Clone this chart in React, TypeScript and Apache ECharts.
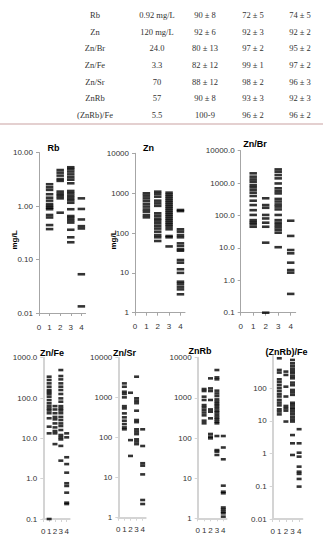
import React, { useEffect, useRef } from 'react';
import * as echarts from 'echarts';

// Summary table rows
const tableLabels = ['Rb', 'Zn', 'Zn/Br', 'Zn/Fe', 'Zn/Sr', 'ZnRb', '(ZnRb)/Fe'];
const tableThresholds = ['0.92 mg/L', '120 mg/L', '24.0', '3.3', '70', '57', '5.5'];
const tableColA = ['90 ± 8', '92 ± 6', '80 ± 13', '82 ± 12', '88 ± 12', '90 ± 8', '100-9'];
const tableColB = ['72 ± 5', '92 ± 3', '97 ± 2', '99 ± 1', '98 ± 2', '93 ± 3', '96 ± 2'];
const tableColC = ['74 ± 5', '92 ± 2', '95 ± 2', '97 ± 2', '96 ± 3', '92 ± 3', '96 ± 2'];

// Group positions on the x axis
const groupTicks = [0, 1, 2, 3, 4];

// Measured values for groups 1..4 of each panel
const rbValues = [
  [2.55, 2.24, 2.0, 1.66, 1.43, 1.26, 1.09, 1.0, 0.93, 0.87, 0.68, 0.61, 0.44, 0.37],
  [4.7, 4.2, 3.7, 3.2, 2.95, 1.86, 1.68, 1.54, 1.39, 0.75],
  [5.3, 4.9, 4.4, 3.9, 3.45, 3.1, 2.66, 1.91, 1.73, 1.56, 1.41, 1.28, 1.15, 0.87, 0.65, 0.6, 0.54, 0.49, 0.36, 0.26, 0.21],
  [1.39, 0.88, 0.56, 0.42, 0.38, 0.053, 0.0133],
];
const znValues = [
  [990, 865, 740, 635, 535, 460, 390, 343, 283, 247],
  [1090, 955, 816, 648, 555, 480, 312, 270, 230, 204, 175, 150, 129, 108, 89, 78, 63],
  [1030, 917, 818, 728, 648, 578, 514, 458, 408, 363, 323, 288, 257, 228, 204, 181, 162, 144, 124, 84, 78, 46],
  [378, 355, 124, 108, 89, 78, 55, 47, 39, 36, 21, 18, 12.3, 10, 6.0, 5.3, 4.5, 3.85, 2.9],
];
const znBrValues = [
  [2000, 1580, 1300, 1100, 870, 740, 615, 505, 400, 286, 210, 146, 104, 72, 62, 54, 45],
  [340, 210, 173, 104, 81, 60, 45, 14.5, 0.1],
  [2650, 2230, 1770, 1400, 975, 690, 570, 480, 325, 270, 220, 188, 154, 104, 72, 60, 51, 43, 36, 29.5, 10.5],
  [69, 23.4, 8.6, 6.8, 3.5, 2.07, 1.72, 0.38],
];
const znFeValues = [
  [338, 280, 231, 191, 158, 141, 126, 108, 89, 74, 63, 55, 49, 42, 31.5, 19.5, 13.3, 0.1],
  [63, 52, 42, 34, 29.6, 23.5, 18.7, 15.2, 13.3, 7.2],
  [494, 351, 290, 231, 191, 158, 126, 98, 81, 63, 55, 49, 42, 34, 28.5, 23.5, 20.2, 16.1, 12.1, 10.6, 9.4, 6.5, 2.8],
  [13.3, 10.6, 3.4, 2.3, 1.41, 0.77, 0.66, 0.45, 0.254, 0.235],
];
const znSrValues = [
  [2280, 1880, 1410, 1240, 1020, 615, 540, 406, 323, 266, 219, 181, 162],
  [1330, 87, 35],
  [3350, 965, 840, 730, 473, 277, 245, 162, 142, 123, 91, 80, 69],
  [162, 62, 23, 20, 12.1, 2.77, 2.2],
];
const znRbValues = [
  [1660, 1480, 1070, 885, 660, 580, 500, 430, 367, 270, 232],
  [3060, 1720, 1480, 885, 515, 452, 309, 126, 108, 98],
  [4930, 3240, 2890, 1510, 1290, 1110, 915, 803, 705, 630, 550, 480, 430, 373, 325, 290, 256, 232, 112, 50, 45.7, 37.8],
  [112, 58, 29.5, 6.5, 4.6, 4.2, 1.86, 1.66, 1.47, 1.33, 1.1],
];
const znRbFeValues = [
  [828, 364, 302, 188, 156, 126, 102, 83, 67, 56, 44, 36.4, 30, 22.7, 19.4, 15.9],
  [324, 256, 112, 56, 28.8, 24.5, 20.7, 9.6],
  [736, 582, 483, 400, 340, 288, 238, 202, 149, 124, 89, 75, 63, 36, 31, 26, 22.7, 19.4, 16.3, 13.5, 11.2, 9.6, 3.7, 2.07, 0.91],
  [5.6, 2.07, 1.07, 0.81, 0.4, 0.28, 0.24, 0.168, 0.098],
];

type Fmt = 'f2' | 'f1' | 'int' | 'plain';

interface Panel {
  title: string;
  values: number[][];
  left: number;
  top: number;
  width: number;
  height: number;
  xMax: number;
  yMin: number;
  yMax: number;
  fmt: Fmt;
  titleX: number;
  titleY: number;
  unitX?: number;
  topRow: boolean;
  hideMax?: boolean;
}

const panels: Panel[] = [
  { title: 'Rb', values: rbValues, left: 39, top: 152.5, width: 46.6, height: 160.5, xMax: 4.4, yMin: 0.01, yMax: 10, fmt: 'f2', titleX: 53.5, titleY: 148, unitX: 14, topRow: true },
  { title: 'Zn', values: znValues, left: 135, top: 153.3, width: 50, height: 159.4, xMax: 4.4, yMin: 1, yMax: 10000, fmt: 'int', titleX: 148.5, titleY: 148, unitX: 113, topRow: true },
  { title: 'Zn/Br', values: znBrValues, left: 240.7, top: 150.7, width: 55, height: 162, xMax: 4.4, yMin: 0.1, yMax: 10000, fmt: 'f1', titleX: 255, titleY: 144, topRow: true },
  { title: 'Zn/Fe', values: znFeValues, left: 43.3, top: 357.7, width: 26.3, height: 161.3, xMax: 4.5, yMin: 0.1, yMax: 1000, fmt: 'f1', titleX: 52, titleY: 352.7, topRow: false },
  { title: 'Zn/Sr', values: znSrValues, left: 118.3, top: 357.7, width: 27.4, height: 160, xMax: 4.5, yMin: 1, yMax: 10000, fmt: 'int', titleX: 124.5, titleY: 352.7, topRow: false },
  { title: 'ZnRb', values: znRbValues, left: 197.7, top: 357.7, width: 28.8, height: 160.6, xMax: 4.5, yMin: 1, yMax: 10000, fmt: 'int', titleX: 200, titleY: 350.7, topRow: false },
  { title: '(ZnRb)/Fe', values: znRbFeValues, left: 272.7, top: 355.6, width: 29.7, height: 163.4, xMax: 4.5, yMin: 0.01, yMax: 1000, fmt: 'plain', titleX: 286.5, titleY: 351.7, topRow: false, hideMax: true },
];

const formatTick = (fmt: Fmt) => (v: number) => {
  const n = Number(v.toPrecision(6));
  if (fmt === 'f2') return n.toFixed(2);
  if (fmt === 'f1') return n.toFixed(1);
  if (fmt === 'int') return String(Math.round(n));
  return String(n);
};

const sans = 'Liberation Sans, Arial, sans-serif';
const serif = 'Liberation Serif, Times New Roman, serif';

function buildOption() {
  const grid: any[] = [];
  const xAxis: any[] = [];
  const yAxis: any[] = [];
  const series: any[] = [];
  const graphic: any[] = [];

  panels.forEach((p, i) => {
    const axisColor = p.topRow ? '#a6a6a6' : '#d4d4d4';
    const axisWidth = p.topRow ? 1 : 2;
    grid.push({ left: p.left, top: p.top, width: p.width, height: p.height, containLabel: false, outerBoundsMode: 'none' });
    xAxis.push({
      type: 'value',
      gridIndex: i,
      min: 0,
      max: p.xMax,
      splitLine: { show: false },
      axisLine: { onZero: false, lineStyle: { color: axisColor, width: axisWidth } },
      axisTick: { show: true, length: 3, customValues: groupTicks, lineStyle: { color: axisColor } },
      axisLabel: {
        customValues: groupTicks,
        margin: p.topRow ? 10 : 8,
        fontFamily: sans,
        fontSize: 8,
        color: '#333',
      },
    });
    yAxis.push({
      type: 'log',
      logBase: 10,
      gridIndex: i,
      min: p.yMin,
      max: p.yMax,
      splitLine: { show: false },
      minorTick: { show: false },
      axisLine: { show: true, onZero: false, lineStyle: { color: axisColor, width: axisWidth } },
      axisTick: { show: true, length: 3, lineStyle: { color: axisColor } },
      axisLabel: {
        margin: 6,
        fontFamily: sans,
        fontSize: 8,
        color: '#333',
        showMaxLabel: p.hideMax ? false : true,
        formatter: formatTick(p.fmt),
      },
    });
    const data: number[][] = [];
    p.values.forEach((group, g) => {
      group.forEach((v) => data.push([g + 1, v]));
    });
    series.push({
      type: 'scatter',
      xAxisIndex: i,
      yAxisIndex: i,
      data,
      symbol: 'rect',
      symbolSize: p.topRow ? [7.5, 2.6] : [5, 2.6],
      itemStyle: { color: '#000' },
      clip: false,
      silent: true,
    });
    graphic.push({
      type: 'text',
      x: p.titleX,
      y: p.titleY,
      style: {
        text: p.title,
        fontFamily: sans,
        fontWeight: 'bold',
        fontSize: 9,
        fill: '#000',
        align: 'center',
        verticalAlign: 'middle',
      },
    });
    if (p.unitX !== undefined) {
      graphic.push({
        type: 'text',
        x: p.unitX,
        y: 240,
        rotation: Math.PI / 2,
        style: {
          text: 'mg/L',
          fontFamily: sans,
          fontWeight: 'bold',
          fontSize: 8,
          fill: '#000',
          align: 'center',
          verticalAlign: 'middle',
        },
      });
    }
  });

  // Summary table above the panels
  const colX = [95, 157, 205, 253, 300];
  const cols = [tableLabels, tableThresholds, tableColA, tableColB, tableColC];
  tableLabels.forEach((_, r) => {
    const y = 15 + r * 16.65;
    cols.forEach((col, c) => {
      graphic.push({
        type: 'text',
        x: colX[c],
        y,
        style: {
          text: col[r],
          fontFamily: serif,
          fontSize: 8.5,
          fill: '#333',
          align: 'center',
          verticalAlign: 'middle',
        },
      });
    });
  });
  graphic.push({
    type: 'line',
    shape: { x1: 0, y1: 124, x2: 323, y2: 124 },
    style: { stroke: '#c9a1a1', lineWidth: 1 },
  });

  return {
    animation: false,
    backgroundColor: '#fff',
    grid,
    xAxis,
    yAxis,
    series,
    graphic,
  };
}

export default function App() {
  const ref = useRef<HTMLDivElement>(null);
  useEffect(() => {
    if (!ref.current) return;
    const chart = echarts.init(ref.current, undefined, { renderer: 'svg' });
    chart.setOption(buildOption() as any);
    return () => chart.dispose();
  }, []);
  return (
    <div
      ref={ref}
      style={{ position: 'fixed', left: 0, top: 0, width: 323, height: 537, background: '#fff' }}
    />
  );
}
